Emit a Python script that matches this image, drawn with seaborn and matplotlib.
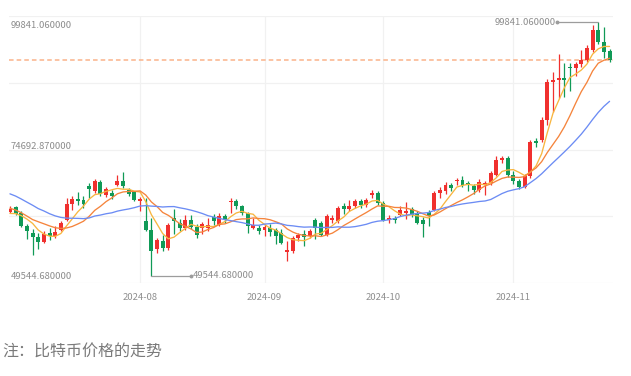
import numpy as np
import pandas as pd
import matplotlib
matplotlib.use('Agg')
import matplotlib.pyplot as plt
import seaborn as sns

# Daily candles (weekdays only), 2024-07-01 .. 2024-11-26
dates = pd.bdate_range('2024-07-01', '2024-11-26')

opens = [62200, 63150, 61960, 59450, 57990, 57130, 56220, 57990, 57400, 58650,
         60630, 63740, 64740, 64600, 67400, 66400, 68100, 65600, 66000, 67560,
         68220, 66570, 66040, 64400, 60300, 58650, 54800, 56400, 55000, 61000,
         60000, 58900, 60500, 59100, 58900, 59000, 61100, 59600, 61300, 64100,
         64260, 63270, 61960, 59000, 59000, 58650, 59000, 58650, 57990, 54300,
         54400, 57000, 57800, 57300, 60640, 59900, 57660, 60600, 60300, 63300,
         62800, 63270, 64250, 63600, 65600, 65900, 63900, 60600, 61000, 61600,
         62000, 62700, 61900, 60500, 62100, 62600, 65900, 66250, 67560, 68200,
         68550, 67900, 67400, 66600, 67560, 67900, 69550, 72400, 72850, 69550,
         68220, 67100, 69300, 76140, 76475, 80400, 88000, 88300, 88800, 91000,
         90660, 91460, 92300, 94300, 98250, 95940, 94000]
highs = [63300, 63400, 62300, 59800, 58700, 58000, 58300, 59000, 59300, 60300,
         64930, 65300, 66050, 65400, 68000, 68700, 68400, 67200, 66500, 69540,
         70000, 67000, 66400, 65100, 64900, 61000, 57000, 57600, 60000, 62800,
         60800, 61500, 61500, 59800, 60200, 61000, 61700, 61900, 61800, 64950,
         64700, 63500, 62200, 61000, 59600, 59700, 59700, 59000, 58700, 56300,
         57300, 58000, 58500, 58700, 61000, 60300, 61700, 61500, 63300, 64000,
         64600, 64700, 64800, 65000, 66500, 66300, 64300, 61500, 61400, 63300,
         64100, 63100, 62300, 61100, 62600, 66400, 67200, 68100, 68000, 68900,
         69200, 68200, 67800, 68600, 68200, 70200, 73300, 73300, 73200, 70200,
         68600, 69700, 76500, 76800, 80900, 88600, 90000, 93500, 91700, 91700,
         92000, 94200, 95200, 99200, 99841.06, 98900, 94500]
lows = [61900, 61500, 59200, 56700, 53600, 54800, 55900, 56500, 57000, 58300,
        60300, 62500, 63600, 62900, 64900, 66000, 65300, 65100, 64800, 67300,
        66900, 65400, 64300, 62300, 58300, 49544.68, 54000, 54500, 54700, 57800,
        58400, 58500, 58700, 56900, 57800, 58300, 59600, 59300, 59900, 61900,
        62800, 61500, 58000, 58700, 57800, 57300, 57400, 55800, 55800, 52500,
        54100, 56400, 55500, 56900, 56700, 57300, 57400, 60000, 60000, 61700,
        62400, 62900, 63000, 63200, 64900, 63500, 60300, 59900, 59900, 61300,
        60800, 61200, 59700, 57100, 59300, 62300, 64900, 65800, 66300, 67500,
        67200, 66300, 65800, 66200, 65600, 67600, 69300, 71800, 69100, 67800,
        66800, 66900, 68800, 75000, 76000, 79500, 82000, 84800, 85000, 86100,
        89200, 90900, 92000, 93900, 95500, 92700, 92000]
closes = [62800, 61760, 59450, 58320, 57130, 56220, 57800, 57330, 58100, 59950,
          63740, 64740, 64400, 63800, 66800, 68200, 65750, 66700, 65300, 68220,
          67360, 65780, 64600, 64700, 58650, 54400, 56500, 55100, 59500, 60300,
          58900, 60600, 59200, 57600, 59700, 59500, 60300, 61300, 60500, 64400,
          63270, 61960, 59300, 59600, 58450, 59100, 58200, 57400, 56010, 54700,
          57000, 57500, 57100, 58300, 59000, 57660, 61300, 61000, 62950, 62800,
          63300, 64250, 63600, 64600, 65900, 63900, 60600, 60950, 60600, 62600,
          62300, 61500, 60000, 59700, 61300, 66000, 66500, 67560, 66900, 68550,
          67600, 67600, 66600, 68100, 67900, 69800, 72400, 72800, 69550, 68220,
          67100, 69200, 76100, 75800, 80430, 88000, 88350, 88700, 88400, 90660,
          91460, 92310, 94630, 98250, 95940, 93830, 92315]

# closes of June 2024 weekdays (Jun 4 .. Jun 28), only used to start the averages
june_closes = [70550, 71100, 70800, 69350, 69500, 67300, 68250, 66750, 66000, 66500,
               65200, 64950, 64850, 64100, 60500, 61900, 61500, 61700, 61400]

RED = '#f0302e'
GREEN = '#109a57'

df = pd.DataFrame({'date': dates, 'open': opens, 'high': highs,
                   'low': lows, 'close': closes})
df['x'] = np.arange(len(df))
all_close = pd.Series(june_closes + closes, dtype=float)
n_warm = len(june_closes)
for n in (5, 10, 20):
    df[f'ma{n}'] = all_close.rolling(n).mean().iloc[n_warm:].to_numpy()

sns.set_theme(style='white')
plt.rcParams['font.family'] = ['Noto Sans CJK SC', 'DejaVu Sans']

fig = plt.figure(figsize=(6.31, 3.76), dpi=100)
ax = fig.add_axes([0.0147, 0.2473, 0.9567, 0.7101])

lo, hi = 48060, 101030
ax.set_ylim(lo, hi)
ax.set_xlim(-0.12, 106.6)

# grid
ax.set_yticks(np.linspace(lo, hi, 5))
ax.set_yticklabels([])
month = df['date'].dt.strftime('%Y-%m')
starts = df.index[month != month.shift()][1:]
ax.set_xticks(starts)
ax.set_xticklabels(month[starts], fontsize=6.8, color='#8f8f8f')
ax.tick_params(axis='both', length=0, pad=7)
ax.grid(True, color='#f1f1f1', lw=0.9)
for s in ax.spines.values():
    s.set_visible(False)

# last close
ax.axhline(closes[-1], color='#fab38a', lw=1.1, ls=(0, (3, 2)), zorder=1.5)

# candles
up = df['close'] >= df['open']
cols = np.where(up, RED, GREEN)
ax.vlines(df['x'], df['low'], df['high'], colors=cols, lw=0.9, zorder=2)
body = np.maximum((df['close'] - df['open']).abs(), 180)
ax.bar(df['x'], body, bottom=np.minimum(df['open'], df['close']),
       width=0.7, color=cols, linewidth=0, zorder=3)

# moving averages
sns.lineplot(data=df, x='x', y='ma5', color='#f8b640', lw=0.95, ax=ax, zorder=4)
sns.lineplot(data=df, x='x', y='ma10', color='#f5843c', lw=0.95, ax=ax, zorder=4)
sns.lineplot(data=df, x='x', y='ma20', color='#6c8cf4', lw=0.95, ax=ax, zorder=4)
ax.set_xlabel('')
ax.set_ylabel('')

# y labels: min, middle, max of the data
ymin, ymax = min(lows), max(highs)
ymid = (ymin + ymax) / 2
for v, dy in ((ymax, -2.5), (ymid, 1.5), (ymin, -1)):
    ax.annotate(f'{v:.6f}', xy=(0, v), xycoords=('axes fraction', 'data'),
                xytext=(1, dy), textcoords='offset points', ha='left', va='center',
                fontsize=6.8, color='#8c8c8c')

# max / min markers
gray = '#9c9c9c'
imax, imin = int(np.argmax(highs)), int(np.argmin(lows))
ax.plot([imax - 7.3, imax], [ymax, ymax], color=gray, lw=0.9, zorder=5)
ax.plot(imax - 7.3, ymax, 'o', ms=1.8, color=gray, zorder=5)
ax.text(imax - 7.6, ymax, f'{ymax:.6f}', ha='right', va='center',
        fontsize=6.8, color='#8c8c8c')
ax.plot([imin, imin + 7.0], [ymin, ymin], color=gray, lw=0.9, zorder=5)
ax.plot(imin + 7.0, ymin, 'o', ms=1.8, color=gray, zorder=5)
ax.text(imin + 7.3, ymin, f'{ymin:.6f}', ha='left', va='center',
        fontsize=6.8, color='#8c8c8c')

fig.text(0.003, 0.064, '注：比特币价格的走势', fontsize=11.5, color='#7a7a7a',
         ha='left', va='center')

fig.savefig('out.png', dpi=100)
